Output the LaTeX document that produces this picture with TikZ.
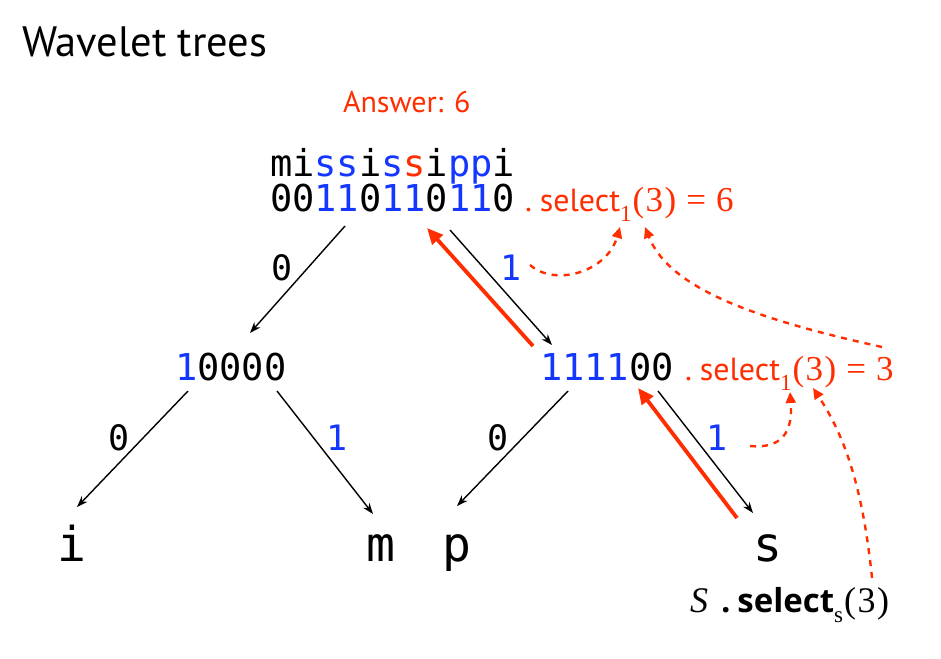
\documentclass[tikz,border=0pt]{standalone}
\usepackage{fontspec}
\setmainfont{Liberation Serif}
\newfontfamily\sansfont{PT Sans}
\newfontfamily\boldsans{Open Sans}
\newfontfamily\monofont{DejaVu Sans Mono}
\usetikzlibrary{arrows.meta,calc}
\definecolor{myred}{RGB}{255,45,0}
\definecolor{myblue}{RGB}{20,55,255}
\newcommand{\selsub}[1]{\raisebox{-0.3em}{\fontsize{23}{23}\selectfont #1}}
\newcommand{\bl}[1]{\textcolor{myblue}{#1}}
\newcommand{\argthree}{\kern1pt(\kern1.5pt3\kern1.5pt)}
\tikzset{
  txt/.style={inner sep=0pt, outer sep=0pt},
  monotxt/.style={txt, font=\monofont\fontsize{37}{40}\selectfont},
  leaf/.style={txt, anchor=base, font=\monofont\fontsize{48}{52}\selectfont},
  lbl/.style={txt, font=\monofont\fontsize{35}{38}\selectfont},
  seltxt/.style={txt, anchor=base west, text=myred, font=\fontsize{35}{38}\selectfont},
  edge/.style={draw=black, line width=1.4pt, -{Stealth[length=11pt,width=8pt]}},
  back/.style={draw=myred, line width=3.8pt, -{Triangle[length=16pt,width=14pt]}},
  hint/.style={draw=myred, line width=2.4pt, dash pattern=on 6pt off 6pt, -{Triangle[length=11pt,width=10pt]}}
}
\newcommand{\selword}{{\sansfont\fontsize{32}{34}\selectfont.\hspace{8pt}select}}
\begin{document}
\begin{tikzpicture}[x=1pt,y=-1pt]
\useasboundingbox (0,0) rectangle (941,658);
\node[txt, anchor=base west, font=\sansfont\fontsize{42.5}{46}\selectfont] (title) at (22,57) {Wavelet trees};
\node[txt, anchor=base west, text=myred, font=\sansfont\fontsize{30}{32}\selectfont] (ans) at (343,113) {Answer: 6};
\node[monotxt, anchor=base west] (str) at (270,176) {mi\bl{ss}i\bl{s}\textcolor{myred}{s}i\bl{pp}i};
\node[monotxt, anchor=base west] (bits) at (270,211) {00\bl{11}0\bl{11}0\bl{11}0};
\node[seltxt] (sel1) at (525,211) {\selword\selsub{1}\argthree\hspace{10pt}=\hspace{10pt}6};
\node[monotxt, anchor=base west] (n0) at (175,380) {\bl{1}0000};
\node[monotxt, anchor=base west] (n1) at (540,380) {\bl{1111}00};
\node[seltxt] (sel2) at (685,380) {\selword\selsub{1}\argthree\hspace{10pt}=\hspace{10pt}3};
\node[leaf] (li) at (72,561) {i};
\node[leaf] (lm) at (381,561) {m};
\node[leaf] (lp) at (457,561) {p};
\node[leaf] (ls) at (768,561) {s};
\node[txt, anchor=base west, font=\fontsize{36}{40}\selectfont] (query) at (690,612) {\textit{S}\hspace{13pt}{\boldsans\bfseries\fontsize{33}{36}\selectfont .\hspace{7pt}select}\selsub{s}\argthree};
% edge labels
\node[lbl] (e0) at (282,268) {0};
\node[lbl, text=myblue] (e1) at (511,268) {1};
\node[lbl] (e00) at (119,438) {0};
\node[lbl, text=myblue] (e01) at (337,438) {1};
\node[lbl] (e10) at (498,438) {0};
\node[lbl, text=myblue] (e11) at (717,438) {1};
% tree edges
\draw[edge] ($(bits.base west)+(75,15)$) -- ($(n0.base west)+(75,-47)$);
\draw[edge] ($(bits.base west)+(180,19)$) -- ($(n1.base west)+(12,-35)$);
\draw[back] ($(n1.base west)+(-7,-34)$) -- ($(bits.base west)+(157,17)$);
\draw[edge] ($(n0.base west)+(13,11)$) -- ($(li.base)+(5,-54)$);
\draw[edge] ($(n0.base west)+(102,11)$) -- ($(lm.base)+(-8,-47)$);
\draw[edge] ($(n1.base west)+(28,11)$) -- ($(lp.base)+(0,-55)$);
\draw[edge] ($(n1.base west)+(118,11)$) -- ($(ls.base)+(-15,-48)$);
\draw[back] ($(ls.base)+(-31,-43)$) -- ($(n1.base west)+(98,8)$);
% dotted hints
\draw[hint] ($(e1)+(19,-3)$) .. controls (555,287) and (607,272) .. ($(sel1.base west)+(95,16)$);
\draw[hint] ($(sel2.base west)+(197,-33)$) .. controls (760,320) and (670,290) .. ($(sel1.base west)+(120,16)$);
\draw[hint] ($(e11)+(33,8)$) .. controls (782,449) and (793,432) .. ($(sel2.base west)+(105,12)$);
\draw[hint] ($(query.base west)+(182,-34)$) .. controls (862,480) and (842,432) .. ($(sel2.base west)+(128,8)$);
\end{tikzpicture}
\end{document}
